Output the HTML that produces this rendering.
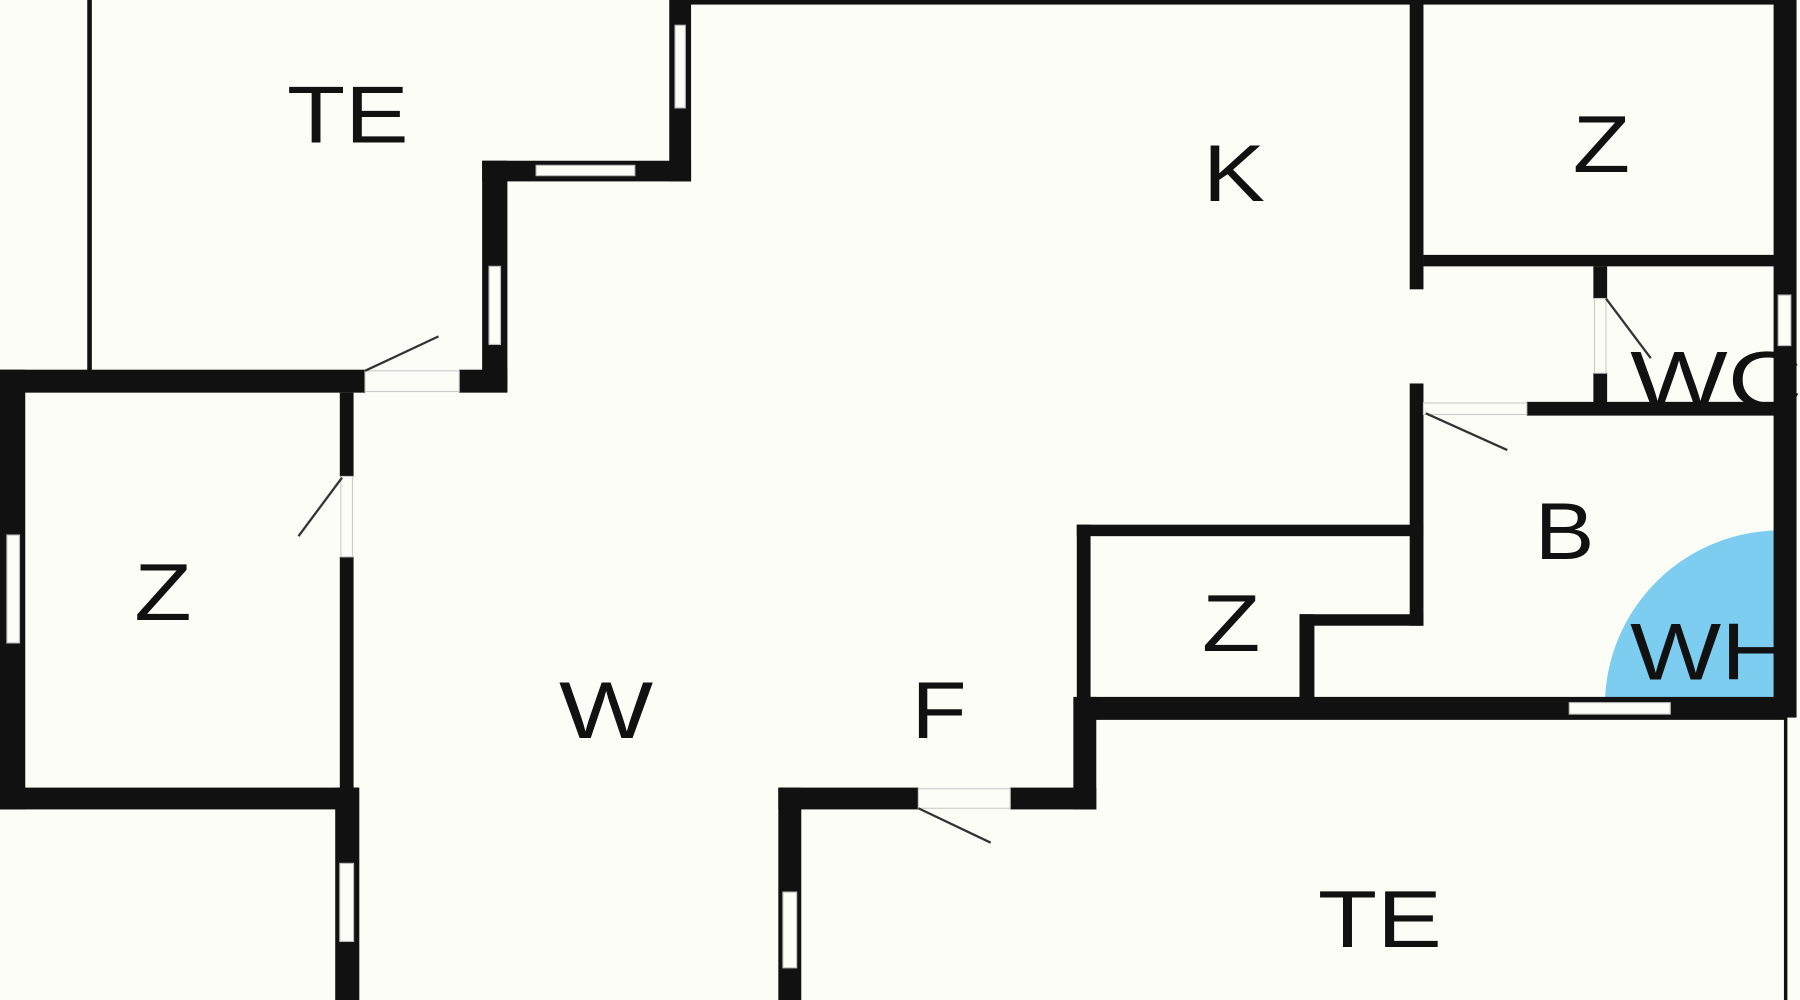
<!DOCTYPE html>
<html><head><meta charset="utf-8"><style>
html,body{margin:0;padding:0;background:#fdfdf8;}
svg{display:block}
text{font-family:"Liberation Sans",sans-serif;font-size:70px;fill:#111;}
</style></head><body>
<svg width="1800" height="1000" viewBox="0 0 1568 871" preserveAspectRatio="none" xmlns="http://www.w3.org/2000/svg">
<rect width="1568" height="871" fill="#fdfdf8"/>
<path d="M1555 615 L1555 462 A153 153 0 0 0 1398 615 Z" fill="#7ccdf0"/>
<text x="1420" y="355" textLength="150" lengthAdjust="spacingAndGlyphs">WC</text>
<g fill="#111">
<rect x="585" y="0" width="970" height="4"/>
<rect x="76" y="0" width="4" height="325"/>
<rect x="583" y="0" width="19" height="158"/>
<rect x="420" y="140" width="182" height="18"/>
<rect x="420" y="140" width="22" height="200"/>
<rect x="0" y="322" width="318" height="20"/>
<rect x="400" y="322" width="42" height="20"/>
<rect x="0" y="322" width="22" height="383"/>
<rect x="296" y="342" width="12" height="73"/>
<rect x="296" y="485" width="12" height="205"/>
<rect x="0" y="686" width="312" height="19"/>
<rect x="292" y="686" width="21" height="185"/>
<rect x="1228" y="0" width="12" height="252"/>
<rect x="1228" y="334" width="12" height="211"/>
<rect x="938" y="457" width="302" height="10"/>
<rect x="938" y="457" width="12" height="155"/>
<rect x="1132" y="535" width="108" height="10"/>
<rect x="1132" y="535" width="13" height="75"/>
<rect x="1240" y="222" width="315" height="10"/>
<rect x="1545" y="0" width="20" height="625"/>
<rect x="1388" y="232" width="12" height="28"/>
<rect x="1388" y="325" width="12" height="33"/>
<rect x="1330" y="350" width="225" height="12"/>
<rect x="938" y="607" width="617" height="20"/>
<rect x="935" y="607" width="20" height="98"/>
<rect x="678" y="686" width="122" height="19"/>
<rect x="880" y="686" width="75" height="19"/>
<rect x="678" y="686" width="20" height="185"/>
<rect x="1554" y="620" width="3" height="251"/>
</g>
<g fill="#fdfdf8" stroke="#bbb" stroke-width="1">
<rect x="588" y="22" width="9" height="72"/>
<rect x="467" y="144" width="86" height="9"/>
<rect x="426" y="232" width="10" height="68"/>
<rect x="6" y="466" width="11" height="94"/>
<rect x="296" y="752" width="12" height="68"/>
<rect x="682" y="777" width="12" height="66"/>
<rect x="1549" y="257" width="11" height="44"/>
<rect x="1367" y="612" width="88" height="10"/>
</g>
<g fill="none" stroke="#ccc" stroke-width="1">
<rect x="318" y="323" width="82" height="18"/>
<rect x="297" y="415" width="10" height="70"/>
<rect x="800" y="687" width="80" height="17"/>
<rect x="1240" y="351" width="90" height="10"/>
<rect x="1389" y="260" width="10" height="65"/>
</g>
<g stroke="#333" stroke-width="2" fill="none">
<line x1="318" y1="323" x2="382" y2="293"/>
<line x1="298" y1="416" x2="260" y2="467"/>
<line x1="800" y1="704" x2="863" y2="734"/>
<line x1="1242" y1="360" x2="1313" y2="392"/>
<line x1="1399" y1="260" x2="1438" y2="312"/>
</g>
<text x="250" y="124" textLength="106" lengthAdjust="spacingAndGlyphs">TE</text>
<text x="1048" y="175" textLength="54" lengthAdjust="spacingAndGlyphs">K</text>
<text x="1370" y="150" textLength="50" lengthAdjust="spacingAndGlyphs">Z</text>
<text x="117" y="540" textLength="50" lengthAdjust="spacingAndGlyphs">Z</text>
<text x="1337" y="487" textLength="52" lengthAdjust="spacingAndGlyphs">B</text>
<text x="1047" y="567" textLength="51" lengthAdjust="spacingAndGlyphs">Z</text>
<text x="1420" y="592" textLength="140" lengthAdjust="spacingAndGlyphs">WH</text>
<text x="487" y="643" textLength="82" lengthAdjust="spacingAndGlyphs">W</text>
<text x="794" y="643" textLength="48" lengthAdjust="spacingAndGlyphs">F</text>
<text x="1148" y="825" textLength="108" lengthAdjust="spacingAndGlyphs">TE</text>
</svg>
</body></html>
